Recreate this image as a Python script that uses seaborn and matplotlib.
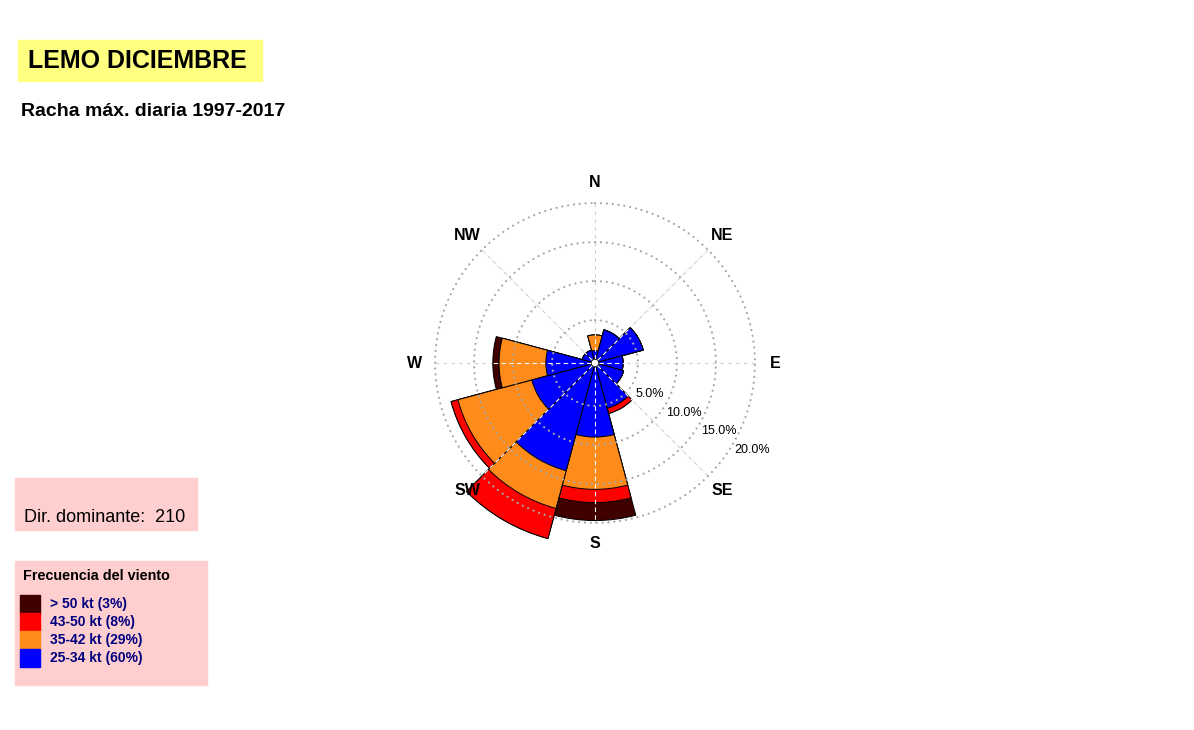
import numpy as np
import pandas as pd
import matplotlib
matplotlib.use('Agg')
import matplotlib.pyplot as plt
from matplotlib.patches import Rectangle
import seaborn as sns

# frequencies (% of days) per 30 deg sector
sectors = [0, 30, 60, 90, 120, 150, 180, 210, 240, 270, 300, 330]
f_25_34 = [1.1, 3.9, 5.9, 3.1, 3.3, 5.5, 9.0, 13.8, 7.9, 5.8, 1.2, 1.2]
f_35_42 = [2.0, 0, 0, 0, 0, 0, 6.7, 5.0, 9.8, 6.0, 0, 0]
f_43_50 = [0, 0, 0, 0, 0, 0.7, 1.7, 4.0, 0.9, 0, 0, 0]
f_50 = [0, 0, 0, 0, 0, 0, 2.3, 0, 0, 0.8, 0, 0]

bins = ['25-34 kt (60%)', '35-42 kt (29%)', '43-50 kt (8%)', '> 50 kt (3%)']
colors = ['#0000ff', '#ff8c1a', '#ff0000', '#400000']
grid_pct = [5, 10, 15, 20]
compass = ['N', 'NE', 'E', 'SE', 'S', 'SW', 'W', 'NW']
dir_dominante = 210

sns.set_style('white')
plt.rcParams['font.family'] = ['Liberation Sans', 'DejaVu Sans']
plt.rcParams['text.color'] = 'black'

W, H = 1194, 730
def fx(px):
    return px / W
def fy(py):
    return 1 - py / H

fig = plt.figure(figsize=(W / 100, H / 100), dpi=100)

# rose centre at (595, 363) px, 7.8 px per percent
r_max = 23.5
hole = 0.5
R = 7.8 * (r_max + hole)
ax = fig.add_axes([fx(595 - R), fy(363 + R), 2 * R / W, 2 * R / H], projection='polar')
ax.set_theta_zero_location('N')
ax.set_theta_direction(-1)

cum = np.cumsum([f_25_34, f_35_42, f_43_50, f_50], axis=0)
rows = []
for i, b in enumerate(bins):
    for s, v in zip(sectors, cum[i]):
        rows.append({'theta': np.deg2rad(s), 'r': v, 'bin': b})
df = pd.DataFrame(rows)

# outer classes first, inner ones drawn on top
for i in reversed(range(len(bins))):
    sns.barplot(data=df[df['bin'] == bins[i]], x='theta', y='r', native_scale=True,
                width=1, color=colors[i], saturation=1, edgecolor='black',
                linewidth=0.7, errorbar=None, orient='x', ax=ax, zorder=2)

th = np.linspace(0, 2 * np.pi, 400)
for g in grid_pct:
    ax.plot(th, np.full_like(th, g), color='#a8a8a8', lw=1.6, ls=(0, (0.05, 2.6)),
            dash_capstyle='round', zorder=4)
    ax.text(np.deg2rad(119), g + 2.6, f'{g:.1f}%', fontsize=9, ha='center', va='center')

for k, lab in enumerate(compass):
    a = np.deg2rad(45 * k)
    ax.plot([a, a], [0, 20], color='#cccccc', lw=0.8, zorder=1)
    ax.plot([a, a], [0, 20], color='white', lw=0.8, ls=(0, (4, 3)), zorder=3)
    ax.text(a, 22.6, lab, fontsize=11.5, weight='bold', ha='center', va='center')

ax.set_ylim(0, r_max)
ax.set_xlim(0, 2 * np.pi)
ax.set_rorigin(-hole)
ax.set_xticks([])
ax.set_yticks([])
ax.set_xlabel('')
ax.set_ylabel('')
ax.grid(False)
ax.spines['polar'].set_visible(False)

# title block
fig.add_artist(Rectangle((fx(18), fy(81)), 244 / W, 41 / H, color='#ffff80',
                         transform=fig.transFigure, zorder=0))
fig.text(fx(28), fy(61), 'LEMO DICIEMBRE', fontsize=18, weight='bold', va='center')
fig.text(fx(21), fy(111), 'Racha máx. diaria 1997-2017', fontsize=14, weight='bold', va='center')

# dominant direction
fig.add_artist(Rectangle((fx(15), fy(530)), 182 / W, 52 / H, color='#ffcfcf',
                         transform=fig.transFigure, zorder=0))
fig.text(fx(24), fy(517), f'Dir. dominante:  {dir_dominante}', fontsize=13, va='center')

# legend
fig.add_artist(Rectangle((fx(15), fy(685)), 192 / W, 124 / H, color='#ffcfcf',
                         transform=fig.transFigure, zorder=0))
fig.text(fx(23), fy(576), 'Frecuencia del viento', fontsize=10.4, weight='bold', va='center')
for j, i in enumerate(reversed(range(len(bins)))):
    top = 595 + 18 * j
    fig.add_artist(Rectangle((fx(20), fy(top + 18)), 20 / W, 18 / H, color=colors[i],
                             transform=fig.transFigure, zorder=1))
    fig.text(fx(50), fy(top + 9), bins[i], fontsize=10, weight='bold',
             color='#00007f', va='center')

fig.savefig('out.png', dpi=100)
